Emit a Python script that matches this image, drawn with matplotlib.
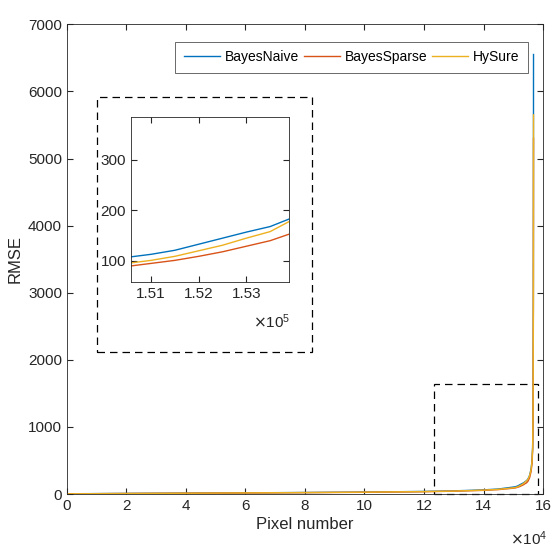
import numpy as np
import matplotlib.pyplot as plt
from matplotlib.patches import Rectangle

plt.rcParams['font.family'] = ['Liberation Sans', 'DejaVu Sans']
plt.rcParams['font.size'] = 11

# sorted pixel index (knots) and RMSE of each method
pix = [0, 20000, 40000, 60000, 80000, 100000, 120000, 130000, 140000, 145000,
       150000, 150580, 151000, 151500, 152000, 152500, 153000, 153500, 153900,
       154500, 155000, 155500, 156000, 156300, 156500, 156650, 156750, 156800]
rmse_naive = [4, 9, 13, 18, 23, 29, 39, 47, 62, 75,
              104, 108, 113, 121, 133, 145, 157, 168, 183,
              200, 230, 280, 380, 500, 700, 1200, 3000, 6550]
rmse_sparse = [3, 8, 12, 16, 21, 26, 35, 42, 55, 66,
               87, 90, 95, 101, 109, 118, 129, 140, 153,
               168, 195, 245, 340, 460, 650, 1100, 2700, 5300]
rmse_hysure = [3, 8, 12, 17, 22, 28, 37, 44, 58, 70,
               92, 96, 101, 109, 120, 131, 145, 158, 178,
               196, 225, 275, 370, 490, 690, 1180, 2950, 5650]

names = ['BayesNaive', 'BayesSparse', 'HySure']
colors = ['#0072BD', '#D95319', '#EDB120']
series = [rmse_naive, rmse_sparse, rmse_hysure]

fig = plt.figure(figsize=(5.53, 5.52), dpi=100)
ax = fig.add_axes([0.121, 0.105, 0.861, 0.851])
for name, c, y in zip(names, colors, series):
    ax.plot(pix, y, color=c, lw=1.0, label=name)
ax.set_xlim(0, 160000)
ax.set_ylim(0, 7000)
ax.set_xticks(np.arange(0, 160001, 20000))
ax.set_xticklabels([str(v) for v in range(0, 17, 2)])
ax.set_yticks(np.arange(0, 7001, 1000))
ax.set_xlabel('Pixel number', color='#262626', fontsize=12, labelpad=3)
ax.set_ylabel('RMSE', color='#262626', fontsize=12, labelpad=4)
ax.tick_params(direction='in', top=True, right=True, colors='#262626', length=4)
for s in ax.spines.values():
    s.set_color('#262626')
    s.set_linewidth(0.6)
fig.text(0.922, 0.012, r'$\times\mathregular{10^4}$', fontsize=11, color='#262626')

ax.add_patch(Rectangle((123400, 0), 35000, 1640, fill=False, ls=(0, (6, 4)),
                       lw=0.9, ec='black', clip_on=False))

leg = ax.legend(loc='upper right', bbox_to_anchor=(528 / 553, 1 - 42 / 552),
                bbox_transform=fig.transFigure, ncol=3, frameon=True, fancybox=False,
                edgecolor='#262626', handlelength=2.6, columnspacing=0.35,
                handletextpad=0.35, borderpad=0.6, borderaxespad=0, fontsize=10)
leg.get_frame().set_linewidth(0.6)

# zoomed inset
ins = fig.add_axes([0.237, 0.489, 0.286, 0.299])
for c, y in zip(colors, series):
    ins.plot(pix, y, color=c, lw=1.0)
ins.set_xlim(150580, 153900)
ins.set_ylim(58, 385)
ins.set_xticks([151000, 152000, 153000])
ins.set_xticklabels(['1.51', '1.52', '1.53'])
ins.set_yticks([100, 200, 300])
ins.tick_params(direction='in', top=True, right=True, colors='#262626', length=4,
                labelsize=11)
for s in ins.spines.values():
    s.set_color('#262626')
    s.set_linewidth(0.6)
fig.text(0.458, 0.405, r'$\times\mathregular{10^5}$', fontsize=11, color='#262626')

fig.add_artist(Rectangle((0.175, 0.362), 0.389, 0.462, transform=fig.transFigure,
                         fill=False, ls=(0, (6, 4)), lw=0.9, ec='black'))

fig.savefig('out.png', dpi=100)
